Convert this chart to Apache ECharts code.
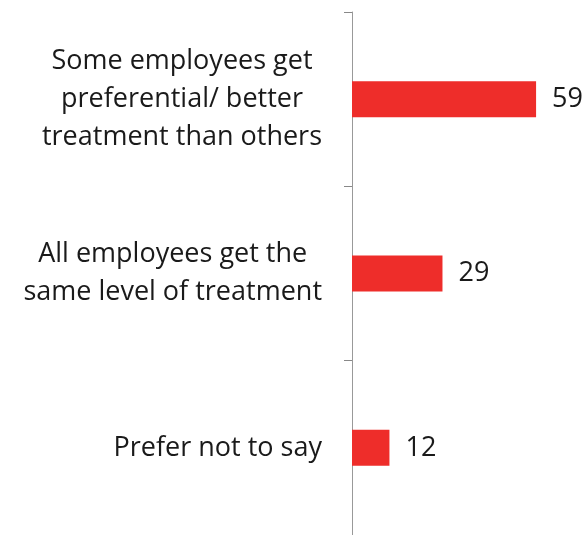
<!DOCTYPE html>
<html>
<head>
<meta charset="utf-8">
<style>
  html, body { margin: 0; padding: 0; background: #ffffff; }
  #chart { width: 587px; height: 535px; }
</style>
<script src="https://cdn.jsdelivr.net/npm/echarts@6/dist/echarts.min.js"></script>
</head>
<body>
<div id="chart"></div>
<script>
// Survey responses on how employees are treated (percent)
const categories = [
  'Some employees get\npreferential/ better\ntreatment than others',
  'All employees get the\nsame level of treatment',
  'Prefer not to say'
];
const values = [59, 29, 12];

const chart = echarts.init(document.getElementById('chart'), null, { renderer: 'canvas' });

const labelFont = '"Open Sans", "Noto Sans", sans-serif';

chart.setOption({
  animation: false,
  grid: { left: 352, right: 1, top: 12, bottom: -4, containLabel: false },
  xAxis: {
    type: 'value',
    min: 0,
    max: 75,
    show: false
  },
  yAxis: {
    type: 'category',
    inverse: true,
    data: categories,
    axisLine: { show: true, lineStyle: { color: '#999999', width: 1 } },
    axisTick: { show: true, length: 8, lineStyle: { color: '#888888' } },
    axisLabel: {
      align: 'right',
      margin: 30,
      // each line centred within the label block; block sits right-aligned
      formatter: (v) => v.split('\n').map((s) => '{c|' + s + '}').join('\n'),
      rich: {
        c: {
          align: 'center',
          color: '#1a1a1a',
          fontFamily: labelFont,
          fontSize: 27,
          lineHeight: 38
        }
      }
    },
    splitLine: { show: false }
  },
  series: [{
    type: 'bar',
    data: values,
    barWidth: 36,
    itemStyle: { color: '#EE2D2A' },
    label: {
      show: true,
      position: 'right',
      distance: 16,
      color: '#1a1a1a',
      fontFamily: labelFont,
      fontSize: 27
    }
  }]
});
</script>
</body>
</html>
